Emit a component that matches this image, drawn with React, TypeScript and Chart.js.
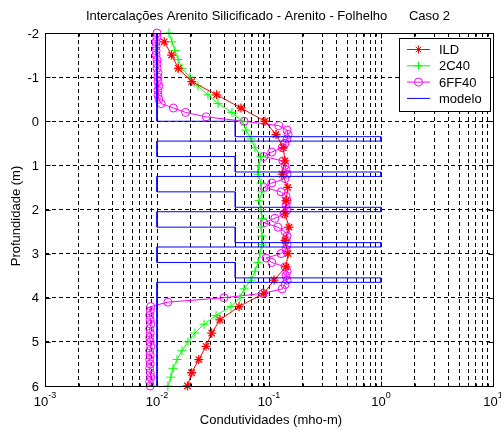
import React, { useEffect, useRef } from 'react';
import { Chart, registerables } from 'chart.js';

Chart.register(...registerables);

// ILD log (asterisks)
const ildDepth = [-1.8, -1.5, -1.2, -0.9, -0.6, -0.3, 0.0, 0.3, 0.6, 0.9, 1.2, 1.5, 1.8, 2.1, 2.4, 2.7, 3.0, 3.3, 3.6, 3.9, 4.2, 4.5, 4.8, 5.1, 5.4, 5.7, 6.0];
const ildCond = [0.0116, 0.0135, 0.0155, 0.0204, 0.0341, 0.0562, 0.092, 0.1155, 0.134, 0.139, 0.131, 0.147, 0.142, 0.139, 0.151, 0.139, 0.148, 0.142, 0.111, 0.090, 0.054, 0.0365, 0.0308, 0.0274, 0.0236, 0.0204, 0.0187];

// 2C40 log (plus signs)
const c40Depth = [-2.0, -1.8, -1.6, -1.4, -1.2, -1.0, -0.8, -0.6, -0.4, -0.2, 0.0, 0.2, 0.4, 0.6, 0.8, 1.0, 1.2, 1.4, 1.6, 1.8, 2.0, 2.2, 2.4, 2.6, 2.8, 3.0, 3.2, 3.4, 3.6, 3.8, 4.0, 4.2, 4.4, 4.6, 4.8, 5.0, 5.2, 5.4, 5.6, 5.8, 6.0];
const c40Cond = [0.0128, 0.0136, 0.0145, 0.0154, 0.0167, 0.0197, 0.0232, 0.0285, 0.0351, 0.0467, 0.0574, 0.0624, 0.0691, 0.075, 0.0849, 0.0814, 0.0798, 0.0849, 0.0866, 0.0814, 0.0849, 0.0866, 0.0849, 0.0866, 0.0866, 0.0831, 0.0798, 0.075, 0.0691, 0.0599, 0.0551, 0.0458, 0.0337, 0.0263, 0.0218, 0.0189, 0.0167, 0.0151, 0.0139, 0.0133, 0.0125];

// 6FF40 log (circles)
const ffDepth = [-2.0, -1.9, -1.8, -1.7, -1.6, -1.5, -1.4, -1.3, -1.2, -1.1, -1.0, -0.9, -0.8, -0.7, -0.6, -0.5, -0.4, -0.3, -0.2, -0.1, 0.0, 0.1, 0.2, 0.3, 0.4, 0.5, 0.6, 0.7, 0.8, 0.9, 1.0, 1.1, 1.2, 1.3, 1.4, 1.5, 1.6, 1.7, 1.8, 1.9, 2.0, 2.1, 2.2, 2.3, 2.4, 2.5, 2.6, 2.7, 2.8, 2.9, 3.0, 3.1, 3.2, 3.3, 3.4, 3.5, 3.6, 3.7, 3.8, 3.9, 4.0, 4.1, 4.2, 4.3, 4.4, 4.5, 4.6, 4.7, 4.8, 4.9, 5.0, 5.1, 5.2, 5.3, 5.4, 5.5, 5.6, 5.7, 5.8, 5.9, 6.0];
const ffCond = [0.0100, 0.0100, 0.0098, 0.0098, 0.0098, 0.0098, 0.0100, 0.0100, 0.0100, 0.0102, 0.0102, 0.0102, 0.0104, 0.0102, 0.0102, 0.0104, 0.0109, 0.0140, 0.0180, 0.0275, 0.060, 0.122, 0.145, 0.148, 0.145, 0.139, 0.131, 0.106, 0.090, 0.133, 0.139, 0.142, 0.145, 0.139, 0.106, 0.090, 0.128, 0.142, 0.145, 0.142, 0.145, 0.136, 0.113, 0.090, 0.120, 0.139, 0.145, 0.142, 0.145, 0.142, 0.128, 0.094, 0.106, 0.139, 0.145, 0.142, 0.145, 0.139, 0.131, 0.088, 0.0396, 0.0125, 0.0088, 0.0087, 0.0086, 0.0087, 0.0088, 0.0086, 0.0087, 0.0086, 0.0087, 0.0088, 0.0086, 0.0087, 0.0086, 0.0087, 0.0086, 0.0087, 0.0088, 0.0086, 0.0087];

// Layered model: boundaries (m) and conductivity of each layer
const modelBounds = [-2, 0, 0.35, 0.45, 0.8, 1.15, 1.25, 1.6, 1.95, 2.05, 2.4, 2.75, 2.85, 3.2, 3.55, 3.65, 6];
const modelCond = [0.01, 0.05, 1, 0.01, 0.05, 1, 0.01, 0.05, 1, 0.01, 0.05, 1, 0.01, 0.05, 1, 0.01];

// Axis ticks
const xDecades = [0.001, 0.01, 0.1, 1];
const xMantissas = [1, 2, 3, 4, 5, 6, 7, 8, 9];
const xLabelValues = [0.001, 0.01, 0.1, 1, 10];
const xLabelExponents = ['-3', '-2', '-1', '0', '1'];
const yTicks = [-2, -1, 0, 1, 2, 3, 4, 5, 6];

const titleText = 'Intercalações Arenito Silicificado - Arenito - Folhelho      Caso 2';
const xTitle = 'Condutividades (mho-m)';
const yTitle = 'Profundidade (m)';

const FONT = '"Liberation Sans", Arial, Helvetica, sans-serif';

const legendItems = [
  { label: 'ILD', color: '#ff0000', marker: 'star' },
  { label: '2C40', color: '#00ff00', marker: 'plus' },
  { label: '6FF40', color: '#ff00ff', marker: 'circle' },
  { label: 'modelo', color: '#0000ff', marker: 'none' },
];

const toPoints = (depth: number[], cond: number[]) => depth.map((d, i) => ({ x: cond[i], y: d }));

const modelPoints = () => {
  const pts: { x: number; y: number }[] = [];
  modelCond.forEach((c, i) => {
    pts.push({ x: c, y: modelBounds[i] });
    pts.push({ x: c, y: modelBounds[i + 1] });
  });
  return pts;
};

const xGridValues = (() => {
  const v: number[] = [];
  xDecades.forEach((d) => xMantissas.forEach((m) => v.push(+(d * m).toPrecision(3))));
  v.push(10);
  return v;
})();

function drawMarker(ctx: CanvasRenderingContext2D, kind: string, x: number, y: number, r: number) {
  ctx.beginPath();
  if (kind === 'star') {
    ctx.moveTo(x - r, y); ctx.lineTo(x + r, y);
    ctx.moveTo(x, y - r); ctx.lineTo(x, y + r);
    const k = r * 0.707;
    ctx.moveTo(x - k, y - k); ctx.lineTo(x + k, y + k);
    ctx.moveTo(x - k, y + k); ctx.lineTo(x + k, y - k);
    ctx.stroke();
  } else if (kind === 'plus') {
    ctx.moveTo(x - r, y); ctx.lineTo(x + r, y);
    ctx.moveTo(x, y - r); ctx.lineTo(x, y + r);
    ctx.stroke();
  } else if (kind === 'circle') {
    ctx.arc(x, y, r, 0, Math.PI * 2);
    ctx.stroke();
  }
}

const framePlugin = {
  id: 'frameAndText',
  afterDraw(chart: any) {
    const { ctx, chartArea: a, scales } = chart;
    const xs = scales.x;
    const ys = scales.y;
    ctx.save();
    ctx.setLineDash([]);
    ctx.strokeStyle = '#000';
    ctx.lineWidth = 1;

    const L = Math.round(a.left) + 0.5;
    const R = Math.round(a.right) + 0.5;
    const T = Math.round(a.top) + 0.5;
    const B = Math.round(a.bottom) + 0.5;
    ctx.strokeRect(L, T, R - L, B - T);

    // inward tick marks
    ctx.beginPath();
    xGridValues.forEach((v) => {
      const px = Math.round(xs.getPixelForValue(v)) + 0.5;
      const major = xLabelValues.includes(v);
      const len = major ? 5 : 3;
      ctx.moveTo(px, B); ctx.lineTo(px, B - len);
      ctx.moveTo(px, T); ctx.lineTo(px, T + len);
    });
    yTicks.forEach((v) => {
      const py = Math.round(ys.getPixelForValue(v)) + 0.5;
      ctx.moveTo(L, py); ctx.lineTo(L + 5, py);
      ctx.moveTo(R, py); ctx.lineTo(R - 5, py);
    });
    ctx.stroke();

    ctx.fillStyle = '#000';
    // y tick labels
    ctx.font = `13px ${FONT}`;
    ctx.textAlign = 'right';
    ctx.textBaseline = 'middle';
    yTicks.forEach((v) => {
      ctx.fillText(String(v), 39, ys.getPixelForValue(v) + 1);
    });

    // x tick labels: 10 with superscript exponent
    ctx.textAlign = 'left';
    ctx.textBaseline = 'alphabetic';
    xLabelValues.forEach((v, i) => {
      const px = xs.getPixelForValue(v);
      ctx.font = `13px ${FONT}`;
      const wBase = ctx.measureText('10').width;
      ctx.font = `9px ${FONT}`;
      const wExp = ctx.measureText(xLabelExponents[i]).width;
      const x0 = px - (wBase + wExp) / 2;
      ctx.font = `13px ${FONT}`;
      ctx.fillText('10', x0, 406);
      ctx.font = `9px ${FONT}`;
      ctx.fillText(xLabelExponents[i], x0 + wBase, 398);
    });

    // titles
    ctx.font = `13px ${FONT}`;
    ctx.textAlign = 'center';
    ctx.textBaseline = 'middle';
    ctx.fillText(titleText, 268, 16);
    ctx.fillText(xTitle, 271, 420);
    ctx.save();
    ctx.translate(16, 216);
    ctx.rotate(-Math.PI / 2);
    ctx.fillText(yTitle, 0, 0);
    ctx.restore();

    // legend
    const bx = 399.5, by = 38.5, bw = 91, bh = 73;
    ctx.fillStyle = '#fff';
    ctx.fillRect(bx, by, bw, bh);
    ctx.strokeStyle = '#000';
    ctx.strokeRect(bx, by, bw, bh);
    legendItems.forEach((it, i) => {
      const yy = 49.5 + i * 16.3;
      ctx.strokeStyle = it.color;
      ctx.lineWidth = 1;
      ctx.beginPath();
      ctx.moveTo(407, yy); ctx.lineTo(430, yy);
      ctx.stroke();
      drawMarker(ctx, it.marker, 418.5, yy, 4);
      ctx.fillStyle = '#000';
      ctx.textAlign = 'left';
      ctx.textBaseline = 'middle';
      ctx.font = `13px ${FONT}`;
      ctx.fillText(it.label, 439, yy + 1);
    });
    ctx.restore();
  },
};

export default function App() {
  const canvasRef = useRef<HTMLCanvasElement | null>(null);

  useEffect(() => {
    if (!canvasRef.current) return;
    const gridOpts = { color: '#000', lineWidth: 1, drawTicks: false };
    const chart = new Chart(canvasRef.current, {
      type: 'scatter',
      data: {
        datasets: [
          {
            label: 'modelo',
            data: modelPoints(),
            showLine: true,
            borderColor: '#0000ff',
            borderWidth: 1,
            pointRadius: 0,
            fill: false,
            clip: false,
          },
          {
            label: 'ILD',
            data: toPoints(ildDepth, ildCond),
            showLine: true,
            borderColor: '#ff0000',
            borderWidth: 1,
            pointStyle: 'star',
            pointRadius: 4.5,
            pointBorderColor: '#ff0000',
            pointBackgroundColor: 'rgba(0,0,0,0)',
            pointBorderWidth: 1.3,
            clip: false,
          },
          {
            label: '2C40',
            data: toPoints(c40Depth, c40Cond),
            showLine: true,
            borderColor: '#00ff00',
            borderWidth: 1,
            pointStyle: 'cross',
            pointRadius: 4.5,
            pointBorderColor: '#00ff00',
            pointBackgroundColor: 'rgba(0,0,0,0)',
            pointBorderWidth: 1,
            clip: false,
          },
          {
            label: '6FF40',
            data: toPoints(ffDepth, ffCond),
            showLine: true,
            borderColor: '#ff00ff',
            borderWidth: 1,
            pointStyle: 'circle',
            pointRadius: 4,
            pointBorderColor: '#ff00ff',
            pointBackgroundColor: 'rgba(0,0,0,0)',
            pointBorderWidth: 1,
            clip: false,
          },
        ],
      },
      options: {
        animation: false,
        responsive: false,
        maintainAspectRatio: false,
        layout: { padding: { top: 33, right: 8, left: 0, bottom: 0 } },
        plugins: {
          legend: { display: false },
          title: { display: false },
          tooltip: { enabled: false },
        },
        scales: {
          x: {
            type: 'logarithmic',
            min: 0.001,
            max: 10,
            afterBuildTicks: (s: any) => {
              s.ticks = xGridValues.map((v) => ({ value: v }));
            },
            afterFit: (s: any) => {
              s.height = 43;
            },
            ticks: { display: false },
            grid: gridOpts,
            border: { display: false, dash: [4, 3] },
          },
          y: {
            type: 'linear',
            reverse: true,
            min: -2,
            max: 6,
            afterBuildTicks: (s: any) => {
              s.ticks = yTicks.map((v) => ({ value: v }));
            },
            afterFit: (s: any) => {
              s.width = 45;
            },
            ticks: { display: false },
            grid: gridOpts,
            border: { display: false, dash: [4, 3] },
          },
        },
      },
      plugins: [framePlugin],
    } as any);
    return () => chart.destroy();
  }, []);

  return (
    <div style={{ position: 'fixed', left: 0, top: 0, width: 501, height: 429, background: '#fff' }}>
      <canvas ref={canvasRef} width={501} height={429} style={{ width: 501, height: 429, display: 'block' }} />
    </div>
  );
}
